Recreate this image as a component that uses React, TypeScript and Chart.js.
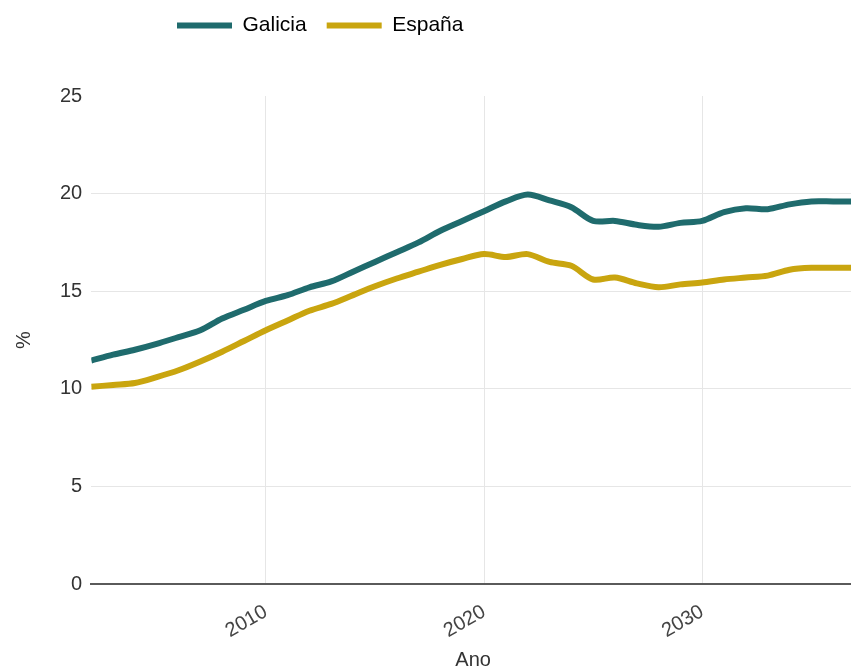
import { useEffect, useRef } from 'react';
import { Chart, registerables } from 'chart.js';

Chart.register(...registerables);

const years = [
  2002, 2003, 2004, 2005, 2006, 2007, 2008, 2009, 2010, 2011, 2012, 2013,
  2014, 2015, 2016, 2017, 2018, 2019, 2020, 2021, 2022, 2023, 2024, 2025,
  2026, 2027, 2028, 2029, 2030, 2031, 2032, 2033, 2034, 2035, 2036, 2037,
];

const galicia = [
  11.45, 11.75, 12.0, 12.3, 12.65, 13.0, 13.6, 14.05, 14.5, 14.8, 15.2, 15.5,
  16.0, 16.5, 17.0, 17.5, 18.1, 18.6, 19.1, 19.6, 19.95, 19.65, 19.3, 18.6,
  18.6, 18.4, 18.3, 18.5, 18.6, 19.05, 19.25, 19.2, 19.45, 19.6, 19.6, 19.6,
];

const espana = [
  10.1, 10.2, 10.3, 10.6, 10.95, 11.4, 11.9, 12.45, 13.0, 13.5, 14.0, 14.35,
  14.8, 15.25, 15.65, 16.0, 16.35, 16.65, 16.9, 16.75, 16.9, 16.5, 16.3, 15.6,
  15.7, 15.4, 15.2, 15.35, 15.45, 15.6, 15.7, 15.8, 16.1, 16.2, 16.2, 16.2,
];

const seriesNames = ['Galicia', 'España'];
const xTickValues = [2010, 2020, 2030];
const yTickValues = [0, 5, 10, 15, 20, 25];

const FONT = "'Liberation Sans', Arial, sans-serif";
const TEAL = '#1f6b6d';
const GOLD = '#c9a50f';

export default function App() {
  const ref = useRef<HTMLCanvasElement>(null);

  useEffect(() => {
    document.body.style.margin = '0';
    if (!ref.current) return;

    const legendTweak = {
      id: 'legendTweak',
      beforeInit(chart: any) {
        const legend = chart.legend;
        if (!legend) return;
        const orig = legend.fit;
        legend.fit = function () {
          orig.call(this);
          this.height = 96;
        };
      },
      afterLayout(chart: any) {
        const l = chart.legend;
        if (!l) return;
        l.left = 157;
        l.top = -5;
      },
    };

    const chart = new Chart(ref.current, {
      type: 'line',
      data: {
        datasets: [
          {
            label: seriesNames[0],
            data: galicia.map((v, i) => ({ x: years[i], y: v })),
            borderColor: TEAL,
            backgroundColor: TEAL,
            borderWidth: 6,
            pointRadius: 0,
            tension: 0.3,
            borderJoinStyle: 'round',
          },
          {
            label: seriesNames[1],
            data: espana.map((v, i) => ({ x: years[i], y: v })),
            borderColor: GOLD,
            backgroundColor: GOLD,
            borderWidth: 6,
            pointRadius: 0,
            tension: 0.3,
            borderJoinStyle: 'round',
          },
        ],
      },
      options: {
        animation: false,
        responsive: false,
        maintainAspectRatio: false,
        layout: { padding: { left: 0, right: 0, top: 0, bottom: 0 } },
        plugins: {
          tooltip: { enabled: false },
          legend: {
            position: 'top',
            align: 'start',
            labels: {
              boxWidth: 55,
              boxHeight: 6,
              padding: 20,
              color: '#333',
              font: { family: FONT, size: 21 },
              generateLabels: (c: any) =>
                c.data.datasets.map((d: any, i: number) => ({
                  text: d.label,
                  fillStyle: d.borderColor,
                  strokeStyle: d.borderColor,
                  lineWidth: 0,
                  hidden: false,
                  datasetIndex: i,
                })),
            },
          },
        },
        scales: {
          x: {
            type: 'linear',
            min: years[0],
            max: years[years.length - 1],
            afterBuildTicks: (s: any) => {
              s.ticks = xTickValues.map((v) => ({ value: v }));
            },
            afterFit: (s: any) => {
              s.height = 88;
            },
            ticks: {
              minRotation: 30,
              maxRotation: 30,
              padding: 16,
              color: '#444',
              font: { family: FONT, size: 20 },
              callback: (v: any) => String(v),
            },
            grid: { color: '#e6e6e6', lineWidth: 1, drawTicks: false },
            border: { display: true, color: '#5a5a5a', width: 2 },
            title: {
              display: true,
              text: 'Ano',
              color: '#333',
              font: { family: FONT, size: 20 },
              padding: { top: 0, bottom: 0 },
            },
          },
          y: {
            min: 0,
            max: 25,
            afterBuildTicks: (s: any) => {
              s.ticks = yTickValues.map((v) => ({ value: v }));
            },
            ticks: {
              padding: 9,
              color: '#333',
              font: { family: FONT, size: 20 },
            },
            grid: {
              drawTicks: false,
              color: (ctx: any) =>
                ctx.tick && (ctx.tick.value === 25 || ctx.tick.value === 0)
                  ? 'rgba(0,0,0,0)'
                  : '#e6e6e6',
            },
            border: { display: false },
            title: {
              display: true,
              text: '%',
              color: '#333',
              font: { family: FONT, size: 20 },
              padding: { top: 12, bottom: 15 },
            },
          },
        },
      },
      plugins: [legendTweak],
    });

    return () => chart.destroy();
  }, []);

  return (
    <div style={{ width: 851, height: 669, overflow: 'hidden', position: 'relative' }}>
      <canvas ref={ref} width={855} height={672} style={{ display: 'block', width: 855, height: 672 }} />
    </div>
  );
}
